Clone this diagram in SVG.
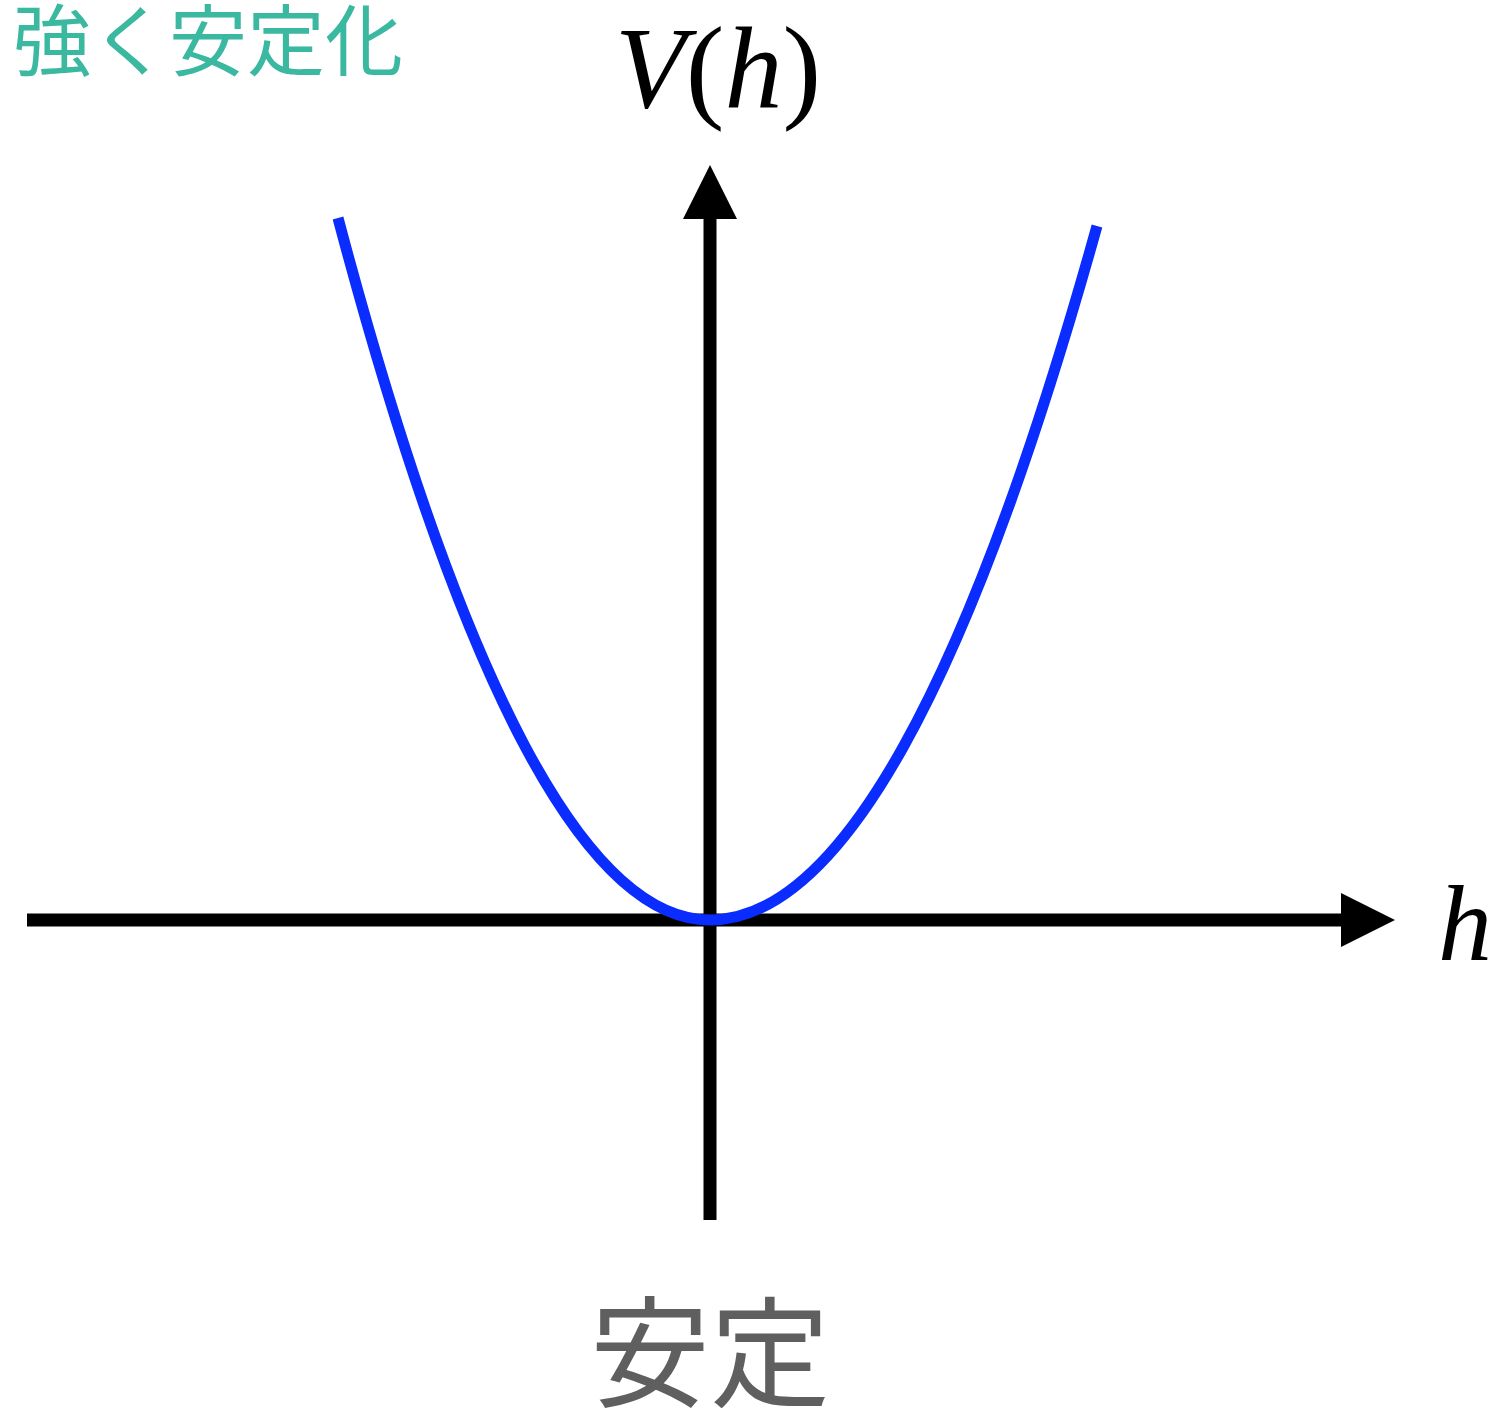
<svg xmlns="http://www.w3.org/2000/svg" width="1501" height="1415" viewBox="0 0 1501 1415">
<style>
.axis{stroke:#000;stroke-width:13;fill:none}
.curve{stroke:#0a2cff;stroke-width:11;fill:none;stroke-linecap:butt}
.math{font-family:"Liberation Serif","Times New Roman",serif;fill:#000}
.jp{font-family:"Noto Sans CJK JP","Noto Sans",sans-serif}
</style>
<defs>
<marker id="arr" markerUnits="userSpaceOnUse" markerWidth="54" markerHeight="54" refX="0" refY="27" orient="auto" viewBox="0 0 54 54">
<path d="M0,0 L54,27 L0,54 Z" fill="#000"/>
</marker>
</defs>
<rect width="1501" height="1415" fill="#fff"/>
<g id="connectors">
<line id="h-axis" class="axis" x1="27" y1="920" x2="1341" y2="920" marker-end="url(#arr)"/>
<line id="v-axis" class="axis" x1="710" y1="1220" x2="710" y2="219" marker-end="url(#arr)"/>
</g>
<g id="potential">
<path class="curve" d="M338,218 Q524,920 710,920 Q903.5,920 1097,226"/>
</g>
<g id="label-vh">
<text class="math" x="718" y="107" font-size="116" text-anchor="middle"><tspan font-style="italic">V</tspan>(<tspan font-style="italic">h</tspan>)</text>
</g>
<g id="label-h">
<text class="math" x="1438" y="960" font-size="108" font-style="italic">h</text>
</g>
<g id="title">
<text class="jp" x="13" y="70" font-size="78" fill="#3ab8a0">強く安定化</text>
</g>
<g id="caption">
<text class="jp" x="710" y="1398" font-size="120" fill="#5f5f5f" text-anchor="middle">安定</text>
</g>
</svg>
